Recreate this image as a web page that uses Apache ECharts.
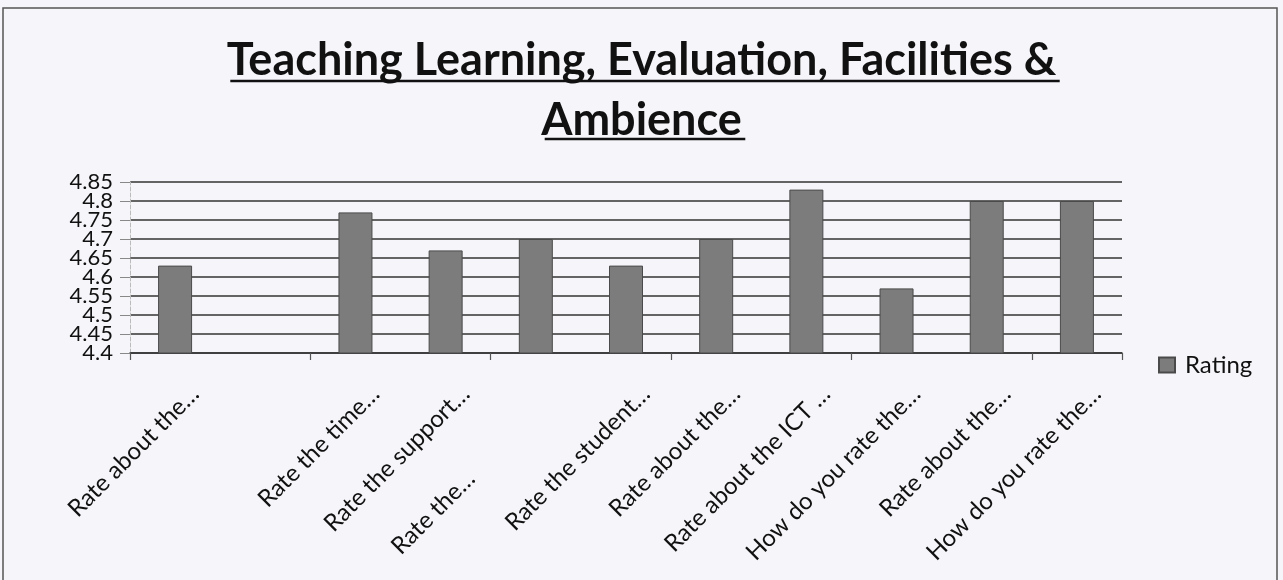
<!DOCTYPE html>
<html>
<head>
<meta charset="utf-8">
<script src="https://cdn.jsdelivr.net/npm/echarts@6/dist/echarts.min.js"></script>
<style>
    html, body { margin: 0; padding: 0; background: #f6f5fa; }
    #chart { width: 1283px; height: 580px; }
</style>
</head>
<body>
<div id="chart"></div>
<script>
// 数据
const titleLines = ['Teaching Learning, Evaluation, Facilities &', 'Ambience']
const categories = ['Rate about the…', '', 'Rate the time…', 'Rate the support…', 'Rate the…',
    'Rate the student…', 'Rate about the…', 'Rate about the ICT …', 'How do you rate the…',
    'Rate about the…', 'How do you rate the…']
const ratings = [4.63, null, 4.77, 4.67, 4.70, 4.63, 4.70, 4.83, 4.57, 4.80, 4.80]
const seriesName = 'Rating'
const yMin = 4.4
const yMax = 4.85
const yStep = 0.05

const FONT = 'Lato'
const titleSize = 45

// 绘图区
const plotLeft = 130
const plotRight = 161
const plotTop = 182
const plotBottom = 227
const plotW = 1283 - plotLeft - plotRight
const catW = plotW / categories.length
// 标签整体向右偏移（原图标签末端在类目中心右侧）
const labelShift = 20
const labelLeft = plotLeft + catW / 2 + labelShift
const labelRight = 1283 - labelLeft - catW * (categories.length - 1)

// 下划线宽度按文字实际宽度计算
const ctx = document.createElement('canvas').getContext('2d')
ctx.font = `bold ${titleSize}px ${FONT}`
const lineW = titleLines.map(t => ctx.measureText(t).width)
const titleTops = [34, 94]
const underlineY = [81, 139]

const chart = echarts.init(document.getElementById('chart'))

// "Rate the…" 在原图中位置更靠下
const catData = categories.map((c, i) => {
    if (i === 4) return { value: c, textStyle: { padding: [0, 120, 0, 0] } }
    return c
})

// Y 轴标签很挤，分两根轴交替显示，避免被自动隐藏
const yLabel = parity => v => {
    const k = Math.round((v - yMin) / yStep)
    return k % 2 === parity ? String(parseFloat(v.toFixed(2))) : ''
}
const yLabelStyle = {
    margin: 17,
    fontFamily: FONT,
    fontSize: 22,
    color: '#111',
    showMinLabel: true,
    showMaxLabel: true,
    hideOverlap: false
}

const option = {
    backgroundColor: '#f6f5fa',
    animation: false,
    title: titleLines.map((t, i) => ({
        text: t,
        left: 'center',
        top: titleTops[i],
        padding: 0,
        textStyle: { fontFamily: FONT, fontWeight: 'bold', fontSize: titleSize, color: '#111', lineHeight: 52 }
    })),
    graphic: [
        {
            type: 'rect',
            shape: { x: 3, y: 8, width: 1274, height: 620 },
            style: { fill: 'none', stroke: '#555', lineWidth: 1.5 },
            silent: true
        },
        ...lineW.map((w, i) => ({
            type: 'line',
            shape: { x1: 645 - w / 2, y1: underlineY[i], x2: 645 + w / 2, y2: underlineY[i] },
            style: { stroke: '#111', lineWidth: 2.5 },
            silent: true
        }))
    ],
    legend: {
        data: [seriesName],
        left: 1153,
        top: 348,
        icon: 'rect',
        itemWidth: 16,
        itemHeight: 15,
        textStyle: { fontFamily: FONT, fontSize: 24, color: '#111', padding: [0, 0, 0, 5] }
    },
    grid: [
        { left: plotLeft, right: plotRight, top: plotTop, bottom: plotBottom, containLabel: false },
        { left: labelLeft, right: labelRight, top: plotTop, bottom: plotBottom, containLabel: false }
    ],
    xAxis: [
        {
            type: 'category',
            gridIndex: 0,
            data: categories,
            axisLine: { lineStyle: { color: '#333', width: 1.5 } },
            axisTick: { show: true, length: 7, lineStyle: { color: '#555', width: 1.2 } },
            axisLabel: { show: false }
        },
        {
            // 只负责显示类目标签
            type: 'category',
            gridIndex: 1,
            data: catData,
            boundaryGap: false,
            axisLine: { show: false },
            axisTick: { show: false },
            axisLabel: {
                interval: 0,
                rotate: 45,
                margin: 37,
                fontFamily: FONT,
                fontSize: 24,
                color: '#111'
            }
        }
    ],
    yAxis: [
        {
            type: 'value',
            gridIndex: 0,
            min: yMin,
            max: yMax,
            interval: yStep,
            axisLine: { show: true, lineStyle: { color: '#bbb', width: 1, type: 'dashed' } },
            axisTick: { show: true, length: 10, lineStyle: { color: '#888' } },
            axisLabel: { ...yLabelStyle, formatter: yLabel(0) },
            splitLine: { lineStyle: { color: '#333', width: 1.5 } }
        },
        {
            type: 'value',
            gridIndex: 0,
            position: 'left',
            offset: 0,
            min: yMin,
            max: yMax,
            interval: yStep,
            axisLine: { show: false },
            axisTick: { show: false },
            splitLine: { show: false },
            axisLabel: { ...yLabelStyle, formatter: yLabel(1) }
        },
        { type: 'value', gridIndex: 1, show: false, splitLine: { show: false } }
    ],
    series: [{
        name: seriesName,
        type: 'bar',
        xAxisIndex: 0,
        yAxisIndex: 0,
        data: ratings,
        barWidth: 34,
        itemStyle: { color: '#7c7c7c', borderColor: '#4a4a4a', borderWidth: 1 }
    }]
}

chart.setOption(option)
</script>
</body>
</html>
